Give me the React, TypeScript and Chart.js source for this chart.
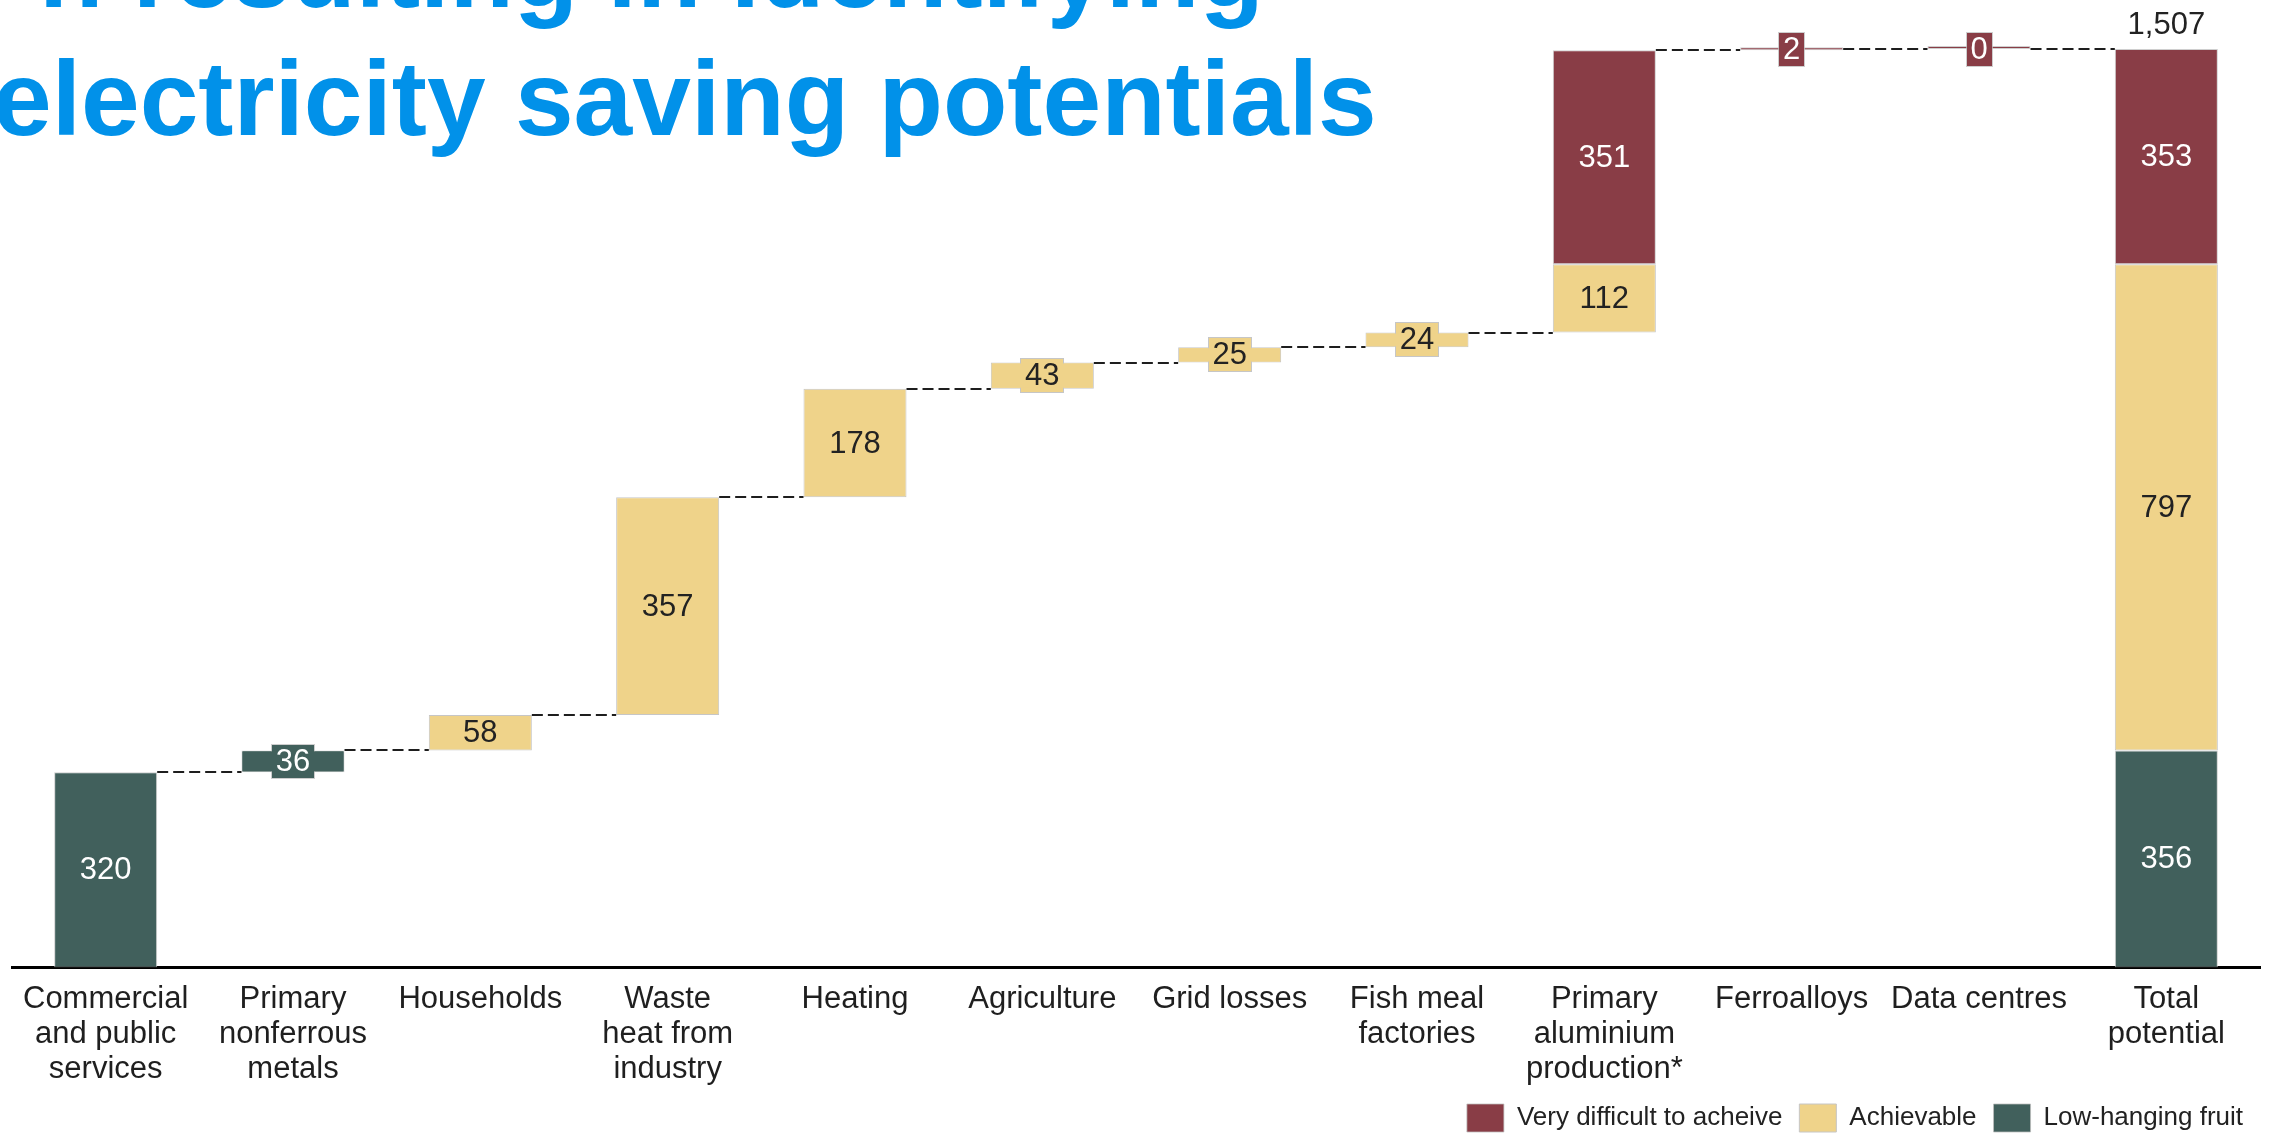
import React, { useEffect, useRef } from "react";
import { Chart, registerables } from "chart.js";

Chart.register(...registerables);

// ---------- data ----------
const categories: (string | string[])[] = [
  ["Commercial", "and public", "services"],
  ["Primary", "nonferrous", "metals"],
  "Households",
  ["Waste", "heat from", "industry"],
  "Heating",
  "Agriculture",
  "Grid losses",
  ["Fish meal", "factories"],
  ["Primary", "aluminium", "production*"],
  "Ferroalloys",
  "Data centres",
  ["Total", "potential"],
];

// per-category step values; the last entry is the "Total potential" column
const lowHanging: (number | null)[] = [320, 36, null, null, null, null, null, null, null, null, null, 356];
const achievable: (number | null)[] = [null, null, 58, 357, 178, 43, 25, 24, 112, null, null, 797];
const veryDifficult: (number | null)[] = [null, null, null, null, null, null, null, null, 351, 2, 0, 353];

const seriesNames = ["Very difficult to acheive", "Achievable", "Low-hanging fruit"];
const totalLabel = "1,507";
const titleLines = ["n resulting in identifying", "electricity saving potentials"];

// ---------- styles ----------
const FONT = '"Liberation Sans", Arial, Helvetica, sans-serif';
const COLOR_DIFF = "#893D46";
const COLOR_ACH = "#EFD38A";
const COLOR_LOW = "#41605C";
const BORDER_LIGHT = "#C6C6C6";
const BORDER_DARK = "rgba(190,190,190,0.75)";

type Range = [number, number] | null;

function buildRanges() {
  const totalIndex = categories.length - 1;
  const low: Range[] = [];
  const ach: Range[] = [];
  const diff: Range[] = [];
  const cum: number[] = [];
  let running = 0;
  for (let i = 0; i < categories.length; i++) {
    let base = i === totalIndex ? 0 : running;
    const parts: [(number | null)[], Range[]][] = [
      [lowHanging, low],
      [achievable, ach],
      [veryDifficult, diff],
    ];
    for (const [src, dst] of parts) {
      const v = src[i];
      if (v == null) {
        dst.push(null);
        continue;
      }
      dst.push([base, base + v]);
      base += v;
    }
    if (i !== totalIndex) running = base;
    cum.push(base);
  }
  return { low, ach, diff, cum, totalIndex };
}

export default function App() {
  const canvasRef = useRef<HTMLCanvasElement | null>(null);

  useEffect(() => {
    document.body.style.margin = "0";
    document.body.style.overflow = "hidden";
    document.documentElement.style.overflow = "hidden";

    const { low, ach, diff, cum, totalIndex } = buildRanges();
    const rawValues = [veryDifficult, achievable, lowHanging];
    const textColors = ["#ffffff", "#222222", "#ffffff"];
    const barColors = [COLOR_DIFF, COLOR_ACH, COLOR_LOW];
    const borderColors = [BORDER_DARK, BORDER_LIGHT, BORDER_DARK];

    const decor = {
      id: "waterfallDecor",
      afterDatasetsDraw(chart: any) {
        const ctx: CanvasRenderingContext2D = chart.ctx;
        const yScale = chart.scales.y;
        const metas = chart.data.datasets.map((_: any, di: number) => chart.getDatasetMeta(di));

        const elementAt = (i: number) => {
          for (let di = 0; di < metas.length; di++) {
            const raw = chart.data.datasets[di].data[i];
            if (raw != null) return metas[di].data[i];
          }
          return null;
        };

        // dashed connectors
        ctx.save();
        ctx.setLineDash([11, 5]);
        ctx.strokeStyle = "#1e1e1e";
        ctx.lineWidth = 2;
        for (let i = 0; i < categories.length - 1; i++) {
          const a = elementAt(i);
          const b = elementAt(i + 1);
          if (!a || !b) continue;
          const yy = Math.round(yScale.getPixelForValue(cum[i]));
          ctx.beginPath();
          ctx.moveTo(a.x + a.width / 2, yy);
          ctx.lineTo(b.x - b.width / 2, yy);
          ctx.stroke();
        }
        ctx.restore();

        // value labels
        ctx.save();
        ctx.font = `31px ${FONT}`;
        ctx.textAlign = "center";
        ctx.textBaseline = "middle";
        const boxH = 35;
        chart.data.datasets.forEach((ds: any, di: number) => {
          ds.data.forEach((r: Range, i: number) => {
            if (!r) return;
            const el = metas[di].data[i];
            const v = rawValues[di][i];
            const top = yScale.getPixelForValue(r[1]);
            const bottom = yScale.getPixelForValue(r[0]);
            const h = bottom - top;
            const cy = (top + bottom) / 2;
            const text = String(v);
            const tw = ctx.measureText(text).width;
            if (h < boxH) {
              const bw = Math.round(tw + 10);
              const bx = Math.round(el.x - bw / 2);
              const by = Math.round(cy - boxH / 2);
              ctx.fillStyle = borderColors[di];
              ctx.fillRect(bx, by, bw, boxH);
              ctx.fillStyle = barColors[di];
              ctx.fillRect(bx + 1, by + 1, bw - 2, boxH - 2);
              if (h > 2) {
                ctx.fillRect(el.x - el.width / 2 + 1, top + 1, el.width - 2, h - 2);
              }
            }
            ctx.fillStyle = textColors[di];
            ctx.fillText(text, el.x, cy + 1);
          });
        });
        // total label above the total column
        const tEl = elementAt(totalIndex);
        if (tEl) {
          ctx.fillStyle = "#222222";
          ctx.textBaseline = "alphabetic";
          ctx.fillText(totalLabel, tEl.x, yScale.getPixelForValue(cum[totalIndex]) - 15);
        }
        ctx.restore();
      },
    };

    const chart = new Chart(canvasRef.current as HTMLCanvasElement, {
      type: "bar",
      data: {
        labels: categories,
        datasets: [
          {
            label: seriesNames[0],
            data: diff as any,
            backgroundColor: COLOR_DIFF,
            borderColor: BORDER_DARK,
            borderWidth: 1,
            borderSkipped: false,
            grouped: false,
            minBarLength: 3,
          },
          {
            label: seriesNames[1],
            data: ach as any,
            backgroundColor: COLOR_ACH,
            borderColor: BORDER_LIGHT,
            borderWidth: 1,
            borderSkipped: false,
            grouped: false,
          },
          {
            label: seriesNames[2],
            data: low as any,
            backgroundColor: COLOR_LOW,
            borderColor: BORDER_DARK,
            borderWidth: 1,
            borderSkipped: false,
            grouped: false,
          },
        ],
      },
      options: {
        responsive: false,
        animation: false,
        events: [],
        datasets: { bar: { barPercentage: 0.55, categoryPercentage: 1 } },
        layout: { padding: { top: 10, left: 12, right: 12, bottom: 0 } },
        scales: {
          x: {
            offset: true,
            grid: { display: false },
            border: { display: true, color: "#000000", width: 3 },
            ticks: {
              font: { size: 31, family: FONT, lineHeight: 1.14 },
              color: "#1f1f1f",
              padding: 6,
              maxRotation: 0,
              minRotation: 0,
              autoSkip: false,
            },
            afterFit: (s: any) => {
              s.height = 119.5;
            },
          },
          y: {
            display: false,
            min: 0,
            max: 1570,
          },
        },
        plugins: {
          legend: {
            position: "bottom",
            align: "end",
            labels: {
              boxWidth: 37,
              boxHeight: 28,
              padding: 17,
              color: "#222222",
              font: { size: 26, family: FONT },
            },
          },
          tooltip: { enabled: false },
          title: { display: false },
        },
      },
      plugins: [decor],
    } as any);

    return () => chart.destroy();
  }, []);

  const titleStyle: React.CSSProperties = {
    position: "absolute",
    whiteSpace: "nowrap",
    fontFamily: FONT,
    fontWeight: 700,
    fontSize: "105.5px",
    lineHeight: "106px",
    color: "#0191E9",
    margin: 0,
  };

  return (
    <div
      style={{
        position: "fixed",
        left: 0,
        top: 0,
        width: "2272px",
        height: "1142px",
        background: "#ffffff",
        overflow: "hidden",
      }}
    >
      <canvas
        ref={canvasRef}
        width={2272}
        height={1142}
        style={{ display: "block", width: "2272px", height: "1142px" }}
      />
      <div style={{ ...titleStyle, top: "-83px", right: "1008px", textAlign: "right" }}>{titleLines[0]}</div>
      <div style={{ ...titleStyle, top: "45px", left: "-7px" }}>{titleLines[1]}</div>
    </div>
  );
}
